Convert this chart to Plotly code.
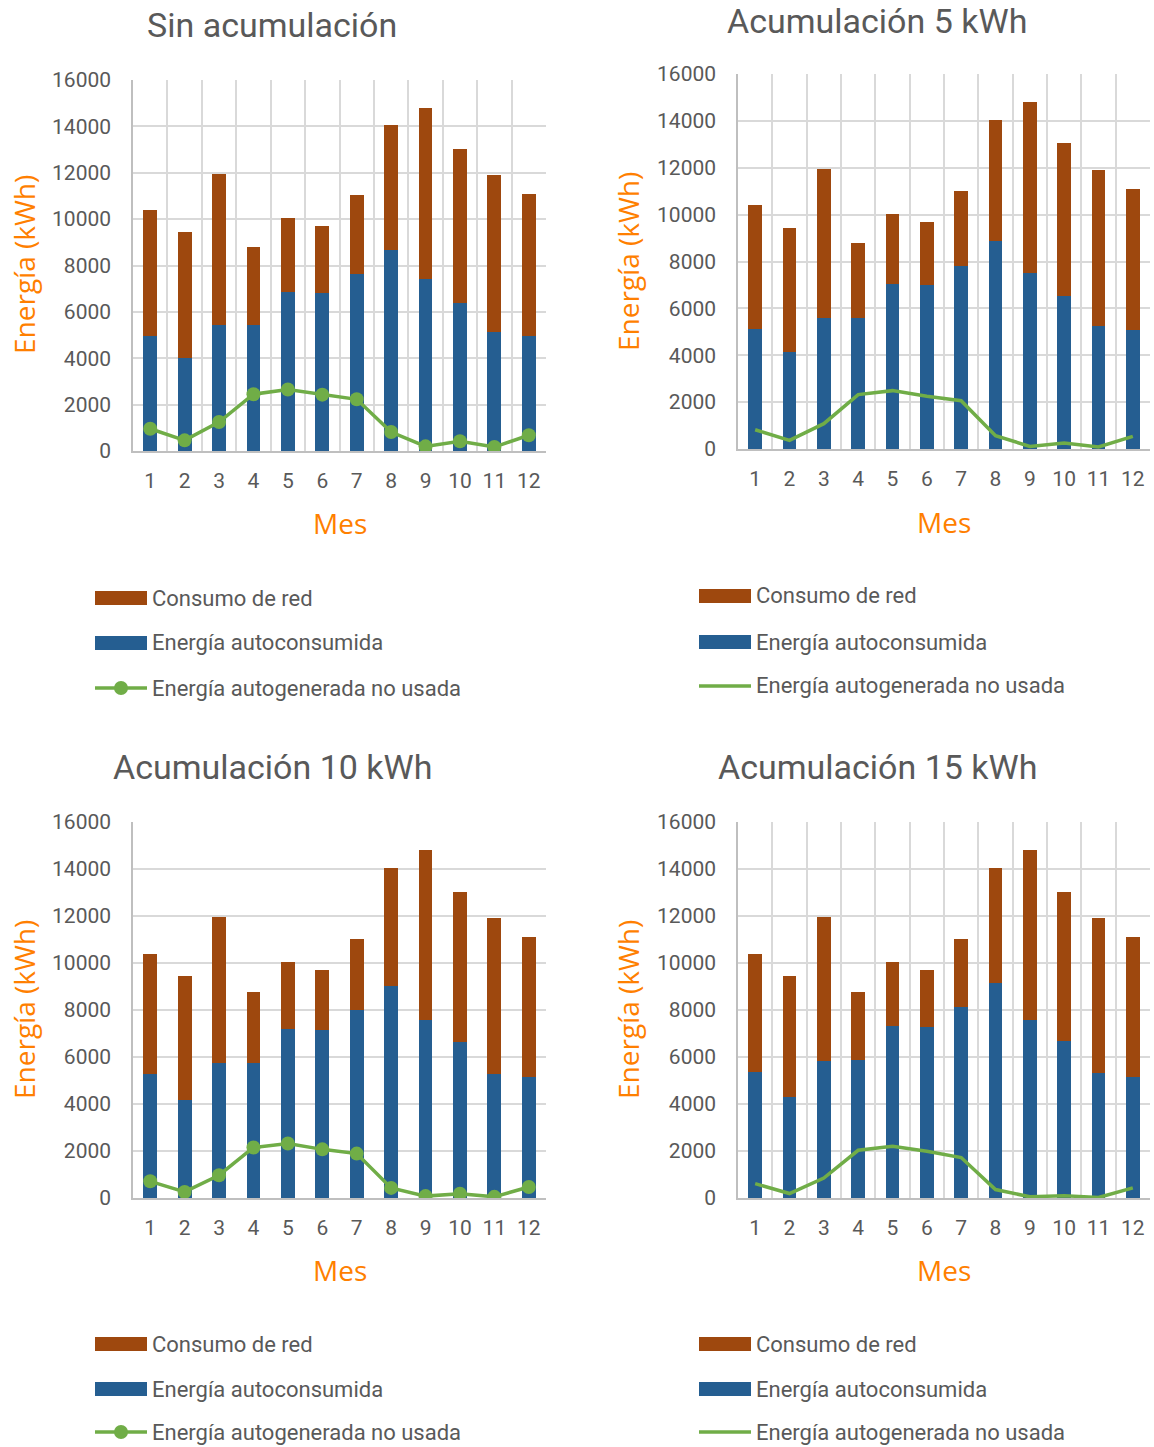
import plotly.graph_objects as go

# ---------------------------------------------------------------- data
meses = list(range(1, 13))
mes_labels = [str(m) for m in meses]
y_ticks = list(range(0, 16001, 2000))

titulos = ["Sin acumulación", "Acumulación 5 kWh",
           "Acumulación 10 kWh", "Acumulación 15 kWh"]

serie_red = "Consumo de red"
serie_auto = "Energía autoconsumida"
serie_no_usada = "Energía autogenerada no usada"

# Sin acumulación
red_0 = [5420, 5460, 6500, 3360, 3170, 2900, 3390, 5380, 7380, 6670, 6750, 6160]
auto_0 = [4980, 3990, 5450, 5420, 6860, 6800, 7630, 8660, 7420, 6370, 5150, 4940]
no_usada_0 = [960, 460, 1250, 2450, 2650, 2430, 2230, 820, 200, 420, 170, 680]

# Acumulación 5 kWh
red_5 = [5280, 5330, 6340, 3200, 3010, 2720, 3230, 5170, 7300, 6530, 6670, 6040]
auto_5 = [5120, 4120, 5610, 5580, 7020, 6980, 7790, 8870, 7500, 6510, 5230, 5060]
no_usada_5 = [820, 370, 1080, 2320, 2490, 2250, 2060, 570, 110, 260, 90, 540]

# Acumulación 10 kWh
red_10 = [5140, 5260, 6220, 3050, 2850, 2570, 3030, 5020, 7240, 6420, 6610, 5970]
auto_10 = [5260, 4190, 5730, 5730, 7180, 7130, 7990, 9020, 7560, 6620, 5290, 5130]
no_usada_10 = [710, 260, 970, 2150, 2320, 2070, 1890, 430, 80, 180, 50, 470]

# Acumulación 15 kWh
red_15 = [5030, 5170, 6100, 2900, 2700, 2420, 2880, 4900, 7210, 6360, 6600, 5930]
auto_15 = [5370, 4280, 5850, 5880, 7330, 7280, 8140, 9140, 7590, 6680, 5300, 5170]
no_usada_15 = [610, 190, 850, 2030, 2200, 1990, 1720, 360, 50, 100, 20, 430]

series_red = [red_0, red_5, red_10, red_15]
series_auto = [auto_0, auto_5, auto_10, auto_15]
series_no_usada = [no_usada_0, no_usada_5, no_usada_10, no_usada_15]

# ---------------------------------------------------------------- styling
W, H = 1154, 1447
C_RED = "#9E480E"
C_AUTO = "#255E91"
C_GREEN = "#70AD47"
C_TEXT = "#595959"
C_ORANGE = "#FF7F00"
C_GRID = "#D9D9D9"
C_AXIS = "#BFBFBF"
F_TEXT = "Roboto"
F_AXTITLE = "Open Sans"


def px(x):
    return x / W


def py(y):
    return 1 - y / H


# per-panel layout (pixel positions on the page)
paneles = [
    dict(plot=(133, 546, 80, 451), title=(272, 25), ytitle=(24, 265),
         xtitle=(340, 523), legend=(95, [598, 643, 688]), markers=True, vgrid=True),
    dict(plot=(738, 1150, 74, 449), title=(877, 21), ytitle=(628, 262),
         xtitle=(944, 522), legend=(699, [596, 642, 686]), markers=False, vgrid=True),
    dict(plot=(133, 546, 822, 1198), title=(272, 767), ytitle=(24, 1010),
         xtitle=(340, 1270), legend=(95, [1344, 1389, 1432]), markers=True, vgrid=False),
    dict(plot=(738, 1150, 822, 1198), title=(877, 767), ytitle=(628, 1010),
         xtitle=(944, 1270), legend=(699, [1344, 1389, 1432]), markers=False, vgrid=True),
]

fig = go.Figure()
shapes = []
annotations = []

for i, p in enumerate(paneles):
    sfx = "" if i == 0 else str(i + 1)
    xa, ya = "x" + sfx, "y" + sfx

    fig.add_trace(go.Bar(x=meses, y=series_auto[i], name=serie_auto,
                         marker=dict(color=C_AUTO, line=dict(width=0)),
                         width=0.4, xaxis=xa, yaxis=ya, showlegend=False))
    fig.add_trace(go.Bar(x=meses, y=series_red[i], name=serie_red,
                         marker=dict(color=C_RED, line=dict(width=0)),
                         width=0.4, xaxis=xa, yaxis=ya, showlegend=False))
    fig.add_trace(go.Scatter(x=meses, y=series_no_usada[i], name=serie_no_usada,
                             mode="lines+markers" if p["markers"] else "lines",
                             line=dict(color=C_GREEN, width=3.5),
                             marker=dict(color=C_GREEN, size=14),
                             xaxis=xa, yaxis=ya, showlegend=False))

    x0, x1, y0, y1 = p["plot"]
    fig.layout["xaxis" + sfx] = dict(
        domain=[px(x0), px(x1)], range=[0.5, 12.5], anchor=ya,
        tickmode="array", tickvals=meses, ticktext=mes_labels,
        showgrid=False, zeroline=False, showline=True,
        linecolor=C_AXIS, linewidth=1.5, ticks="",
        ticklabelstandoff=10, automargin=False,
        tickfont=dict(family=F_TEXT, size=21, color=C_TEXT),
        minor=dict(tickmode="array",
                   tickvals=[m - 0.5 for m in meses] + [12.5],
                   showgrid=p["vgrid"], gridcolor=C_GRID, gridwidth=1.5,
                   ticks=""),
        fixedrange=True,
    )
    fig.layout["yaxis" + sfx] = dict(
        domain=[py(y1), py(y0)], range=[0, 16000], anchor=xa,
        tickmode="array", tickvals=y_ticks, tickformat="d",
        showgrid=True, gridcolor=C_GRID, gridwidth=1.5,
        zeroline=False, showline=True, linecolor=C_AXIS, linewidth=1.5,
        ticks="", ticklabelstandoff=16, automargin=False,
        tickfont=dict(family=F_TEXT, size=21, color=C_TEXT),
        fixedrange=True,
    )

    # chart title
    tx, ty = p["title"]
    annotations.append(dict(text=titulos[i], x=px(tx), y=py(ty),
                            xref="paper", yref="paper", showarrow=False,
                            xanchor="center", yanchor="middle",
                            font=dict(family=F_TEXT, size=34, color=C_TEXT)))
    # axis titles
    yx, yy = p["ytitle"]
    annotations.append(dict(text="Energía (kWh)", x=px(yx), y=py(yy),
                            xref="paper", yref="paper", showarrow=False,
                            textangle=-90, xanchor="center", yanchor="middle",
                            font=dict(family=F_AXTITLE, size=28, color=C_ORANGE)))
    mx, my = p["xtitle"]
    annotations.append(dict(text="Mes", x=px(mx), y=py(my),
                            xref="paper", yref="paper", showarrow=False,
                            xanchor="center", yanchor="middle",
                            font=dict(family=F_AXTITLE, size=28, color=C_ORANGE)))

    # legend block below each chart
    lx, rows = p["legend"]
    sw = 52
    for (ry, color, kind, label) in zip(
            rows, [C_RED, C_AUTO, C_GREEN], ["bar", "bar", "line"],
            [serie_red, serie_auto, serie_no_usada]):
        if kind == "bar":
            shapes.append(dict(type="rect", xref="paper", yref="paper",
                               x0=px(lx), x1=px(lx + sw), y0=py(ry + 7), y1=py(ry - 7),
                               fillcolor=color, line=dict(width=0)))
        else:
            shapes.append(dict(type="line", xref="paper", yref="paper",
                               x0=px(lx), x1=px(lx + sw), y0=py(ry), y1=py(ry),
                               line=dict(color=color, width=3.5)))
            if p["markers"]:
                cx = lx + sw / 2
                shapes.append(dict(type="circle", xref="paper", yref="paper",
                                   x0=px(cx - 7), x1=px(cx + 7),
                                   y0=py(ry + 7), y1=py(ry - 7),
                                   fillcolor=color, line=dict(width=0)))
        annotations.append(dict(text=label, x=px(lx + sw + 3), y=py(ry),
                                xref="paper", yref="paper", showarrow=False,
                                xanchor="left", yanchor="middle",
                                font=dict(family=F_TEXT, size=22, color=C_TEXT)))

fig.update_layout(
    width=W, height=H, margin=dict(l=0, r=0, t=0, b=0, autoexpand=False),
    paper_bgcolor="white", plot_bgcolor="white",
    barmode="stack", bargap=0.6,
    showlegend=False,
    shapes=shapes, annotations=annotations,
)

fig.write_html("out.html", config={"displayModeBar": False})
